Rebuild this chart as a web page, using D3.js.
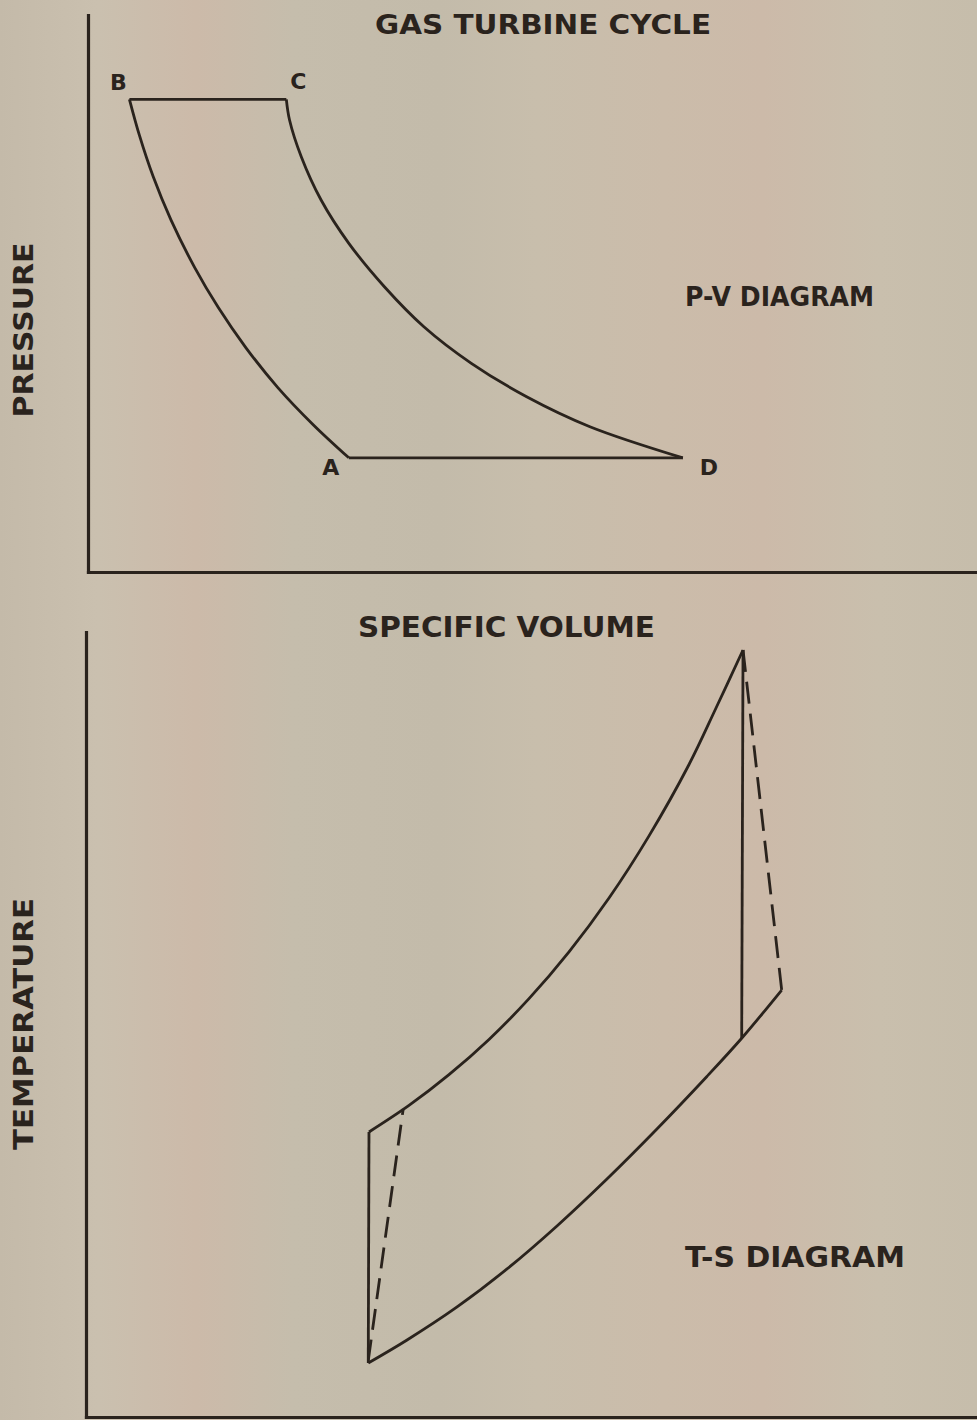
<!DOCTYPE html>
<html>
<head>
<meta charset="utf-8">
<script src="https://cdn.jsdelivr.net/npm/d3@7"></script>
<style>
  html, body { margin: 0; padding: 0; background: #c6bcaa; }
  svg { display: block; }
  text { font-family: "DejaVu Sans", sans-serif; font-weight: bold; fill: #2a231d; }
</style>
</head>
<body>
<script>
// ---------------- DATA ----------------
// P-V diagram (volume, pressure) in arbitrary units 0-100
const pvCompression = [ // B -> A (isentropic compression, drawn from B)
  [4.66, 84.86], [5.77, 78.47], [7.32, 71.04], [9.33, 63.21], [11.99, 54.70],
  [14.66, 47.47], [17.77, 40.25], [21.33, 33.16], [25.33, 26.45], [29.34, 20.50]
];
const pvHeatAddition = [[4.66, 84.86], [22.31, 84.86]];          // B -> C
const pvExpansion = [ // C -> D
  [22.31, 84.86], [22.67, 81.15], [23.99, 74.56], [26.22, 66.79], [29.34, 59.01],
  [33.34, 51.22], [37.78, 44.04], [43.12, 37.47], [49.34, 31.47], [56.46, 26.09], [66.91, 20.50]
];
const pvHeatRejection = [[66.91, 20.50], [29.34, 20.50]];        // D -> A
const pvPointLabels = ["B", "C", "A", "D"];
const pvPoints = [[4.66, 84.86], [22.31, 84.86], [29.34, 20.50], [66.91, 20.50]];

// T-S diagram (entropy, temperature) in arbitrary units 0-100
const tsHighPressure = [
  [31.76, 36.31], [36.25, 39.69], [40.74, 43.61], [45.23, 48.10], [49.72, 53.29],
  [54.21, 59.25], [58.70, 66.11], [63.19, 74.03], [67.68, 83.12], [70.71, 90.32], [73.74, 97.71]
];
const tsLowPressure = [
  [31.68, 6.88], [35.99, 9.78], [41.61, 13.99], [47.22, 18.83], [52.83, 24.31],
  [58.44, 30.29], [64.05, 36.66], [69.66, 43.35], [73.59, 48.25], [78.08, 54.39]
];
const tsIdealCompression = [[31.68, 6.88], [31.76, 36.31]];
const tsIdealExpansion = [[73.74, 97.71], [73.59, 48.25]];
const tsActualCompression = [[31.68, 7.2], [35.60, 39.24]];
const tsActualExpansion = [[73.74, 97.71], [78.08, 54.39]];

// Text labels
const mainTitle = "GAS TURBINE CYCLE";
const pvXLabel = "SPECIFIC VOLUME";
const pvYLabel = "PRESSURE";
const pvName = "P-V DIAGRAM";
const tsYLabel = "TEMPERATURE";
const tsName = "T-S DIAGRAM";

// ---------------- DRAWING ----------------
const W = 977, H = 1420;
const ink = "#2a231d";
const svg = d3.select("body").append("svg").attr("width", W).attr("height", H);

// paper background
const defs = svg.append("defs");
const grad = defs.append("linearGradient").attr("id", "paper").attr("x1", "0").attr("x2", "1").attr("y1", "0").attr("y2", "0");
[[0, "#c4baa9"], [0.1, "#cac0af"], [0.2, "#ccbaa9"], [0.3, "#c5bdac"], [0.45, "#c3bbaa"],
 [0.55, "#c8beac"], [0.68, "#cbbcaa"], [0.78, "#ccbaa9"], [0.9, "#c9bfad"], [1, "#c6bdab"]]
  .forEach(([o, c]) => grad.append("stop").attr("offset", o).attr("stop-color", c));
svg.append("rect").attr("width", W).attr("height", H).attr("fill", "url(#paper)");

// scales
const xPV = d3.scaleLinear().domain([0, 100]).range([88, 977]);
const yPV = d3.scaleLinear().domain([0, 100]).range([572, 15]);
const xTS = d3.scaleLinear().domain([0, 100]).range([86, 977]);
const yTS = d3.scaleLinear().domain([0, 100]).range([1417, 632]);

// axes (no ticks)
const gPVx = svg.append("g").attr("transform", `translate(0,${yPV(0)})`)
  .call(d3.axisBottom(xPV).tickValues([]).tickSizeOuter(0));
const gPVy = svg.append("g").attr("transform", `translate(${xPV(0)},0)`)
  .call(d3.axisLeft(yPV).tickValues([]).tickSizeOuter(0));
const gTSx = svg.append("g").attr("transform", `translate(0,${yTS(0)})`)
  .call(d3.axisBottom(xTS).tickValues([]).tickSizeOuter(0));
const gTSy = svg.append("g").attr("transform", `translate(${xTS(0)},0)`)
  .call(d3.axisLeft(yTS).tickValues([]).tickSizeOuter(0));
[gPVx, gPVy, gTSx, gTSy].forEach(g => g.select(".domain")
  .attr("stroke", ink).attr("stroke-width", 3.2).attr("stroke-linecap", "square"));

// line generators
const pvLine = d3.line().x(d => xPV(d[0])).y(d => yPV(d[1])).curve(d3.curveCatmullRom.alpha(0.5));
const tsLine = d3.line().x(d => xTS(d[0])).y(d => yTS(d[1])).curve(d3.curveCatmullRom.alpha(0.5));

const drawPath = (gen, data, dash) => svg.append("path")
  .attr("d", gen(data)).attr("fill", "none").attr("stroke", ink)
  .attr("stroke-width", 2.8).attr("stroke-linejoin", "miter").attr("stroke-linecap", "butt")
  .attr("stroke-dasharray", dash || null);

// P-V cycle
drawPath(pvLine, pvCompression);
drawPath(pvLine, pvHeatAddition);
drawPath(pvLine, pvExpansion);
drawPath(pvLine, pvHeatRejection);

// T-S cycle
drawPath(tsLine, tsHighPressure);
drawPath(tsLine, tsLowPressure);
drawPath(tsLine, tsIdealCompression);
drawPath(tsLine, tsIdealExpansion);
drawPath(tsLine, tsActualCompression, "21 10");
drawPath(tsLine, tsActualExpansion, "22 10");

// point labels
const labelOffsets = { B: [-11, -9], C: [12, -10], A: [-18, 17], D: [26, 17] };
svg.selectAll("text.pt").data(pvPointLabels).join("text")
  .attr("class", "pt")
  .attr("x", (d, i) => xPV(pvPoints[i][0]) + labelOffsets[d][0])
  .attr("y", (d, i) => yPV(pvPoints[i][1]) + labelOffsets[d][1])
  .attr("text-anchor", "middle").attr("font-size", 22).text(d => d);

// titles
const addText = (t, x, y, len, size, rot) => {
  const el = svg.append("text").attr("font-size", size)
    .attr("textLength", len).attr("lengthAdjust", "spacingAndGlyphs").text(t);
  if (rot) {
    el.attr("transform", `translate(${x},${y}) rotate(-90)`).attr("text-anchor", "middle");
  } else {
    el.attr("x", x).attr("y", y);
  }
  return el;
};
addText(mainTitle, 375, 34, 336, 27);
addText(pvName, 685, 306, 189, 27);
addText(pvXLabel, 358, 637, 297, 28);
addText(tsName, 685, 1267, 220, 28);
addText(pvYLabel, 33, 330, 175, 27, true);
addText(tsYLabel, 33, 1024, 252, 27, true);
</script>
</body>
</html>
